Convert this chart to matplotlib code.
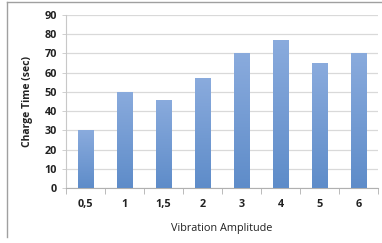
import matplotlib
matplotlib.use("Agg")
import matplotlib.pyplot as plt
import numpy as np
from matplotlib.lines import Line2D
from matplotlib.colors import LinearSegmentedColormap

categories = ["0,5", "1", "1,5", "2", "3", "4", "5", "6"]
values = [30, 50, 46, 57, 70, 77, 65, 70]
yticks = [0, 10, 20, 30, 40, 50, 60, 70, 80, 90]

W, H = 382, 243
fig = plt.figure(figsize=(W/100, H/100), dpi=100)
fig.patch.set_facecolor("white")
ax = fig.add_axes([66/W, 1-188/H, (378-66)/W, (188-15)/H])

x = np.arange(len(categories))
bars = ax.bar(x, values, width=0.39, color="none", edgecolor="none", zorder=3)
grad = np.linspace(0, 1, 256).reshape(-1, 1)
cmap = LinearSegmentedColormap.from_list("g", ["#5e8cc9", "#8aabdd"])
for b in bars:
    x0, y0 = b.get_x(), b.get_y()
    w, h = b.get_width(), b.get_height()
    im = ax.imshow(grad, extent=[x0, x0+w, y0, y0+h], origin="lower",
                   cmap=cmap, aspect="auto", zorder=3)
    im.set_clip_path(b)

ax.set_xlim(-0.5, len(categories)-0.5)
ax.set_ylim(0, 90)
ax.set_yticks(yticks)
ax.set_xticks(x)
ax.set_xticklabels(categories)
ax.yaxis.grid(True, color="#d9d9d9", linewidth=0.9, zorder=0)
ax.set_axisbelow(True)
for s in ["top", "right"]:
    ax.spines[s].set_visible(False)
ax.spines["left"].set_color("#c8c8c8")
ax.spines["bottom"].set_color("#b0b0b0")
ax.tick_params(axis="x", length=0, labelsize=7.8, pad=8, colors="#222222")
ax.tick_params(axis="y", length=3, labelsize=7.8, colors="#222222", width=0.6)
ax.tick_params(axis="y", color="#c8c8c8")
for lab in ax.get_xticklabels() + ax.get_yticklabels():
    lab.set_fontweight("bold")
    lab.set_fontfamily("Open Sans")
ax.set_xticks(np.arange(-0.5, len(categories)), minor=True)
ax.tick_params(axis="x", which="minor", length=4, color="#b0b0b0", width=0.6)

ax.set_xlabel("Vibration Amplitude", fontsize=7.8, fontfamily="Open Sans", labelpad=9, color="#222222")
ax.set_ylabel("Charge Time (sec)", fontsize=7.5, fontfamily="Open Sans", fontweight="bold", labelpad=8, color="#222222")

fig.add_artist(Line2D([7/W, 7/W], [1-2/H, 1-237/H], color="#a0a0a0", linewidth=1.0))
fig.add_artist(Line2D([7/W, 1.0], [1-2/H, 1-2/H], color="#a0a0a0", linewidth=1.0))

fig.savefig("out.png", dpi=100)
